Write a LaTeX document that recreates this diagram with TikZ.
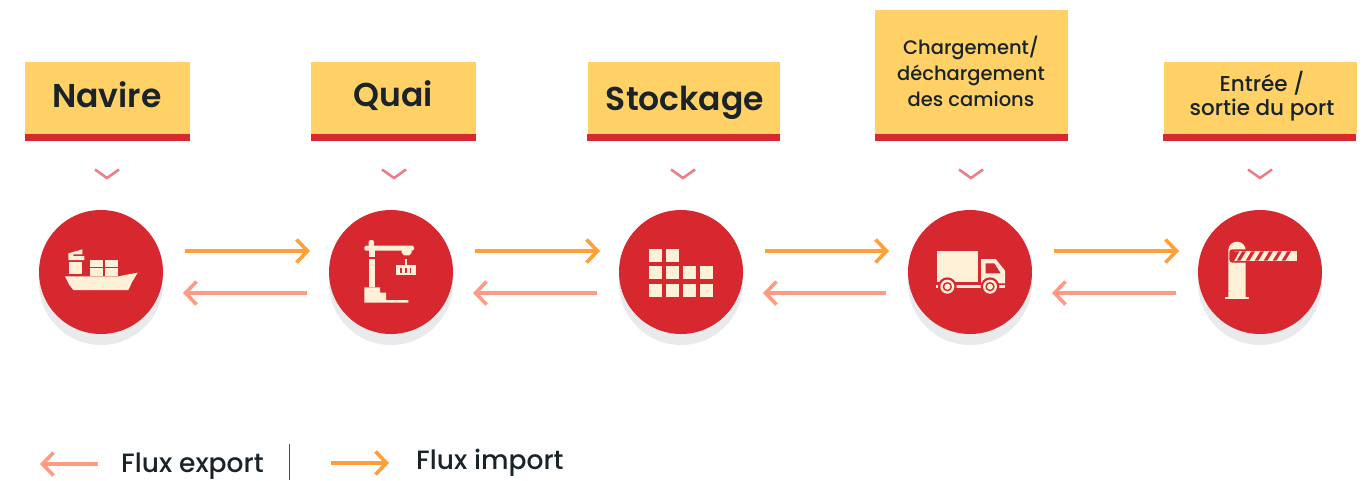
\documentclass[tikz,border=0pt]{standalone}
\usepackage{fontspec}
\usetikzlibrary{arrows.meta}
\newfontfamily\hdfont{Poppins SemiBold}
\newfontfamily\mdfont{Poppins Medium}
\definecolor{cred}{HTML}{D7282F}
\definecolor{cyel}{HTML}{FFD166}
\definecolor{corg}{HTML}{FF9F38}
\definecolor{cpnk}{HTML}{FF9B82}
\definecolor{ccrm}{HTML}{FFF1D8}
\definecolor{cshd}{HTML}{E9EAEC}
\definecolor{cchv}{HTML}{E8808A}
\definecolor{ctxt}{HTML}{1A2328}
\tikzset{
  disc/.style={circle,fill=cred,minimum size=124pt,inner sep=0pt,outer sep=0pt},
  yelbox/.style={rectangle,fill=cyel,inner sep=0pt,outer sep=0pt,anchor=north west},
  redbar/.style={rectangle,fill=cred,inner sep=0pt,outer sep=0pt,anchor=north west,minimum height=7pt},
  bigt/.style={font=\hdfont\fontsize{33}{36}\selectfont,text=ctxt,inner sep=0pt},
  midt/.style={font=\mdfont\fontsize{19.5}{26}\selectfont,text=ctxt,inner sep=0pt,align=center},
  midtb/.style={font=\mdfont\fontsize{21.5}{24}\selectfont,text=ctxt,inner sep=0pt,align=center},
  lgt/.style={font=\mdfont\fontsize{26.5}{28}\selectfont,text=ctxt,inner sep=0pt,anchor=west},
  imp/.style={draw=corg,line width=3.6pt,-{Straight Barb[length=11pt,width=23pt,line width=3.6pt]}},
  expf/.style={draw=cpnk,line width=3.6pt,-{Straight Barb[length=11pt,width=23pt,line width=3.6pt]}},
  chev/.style={draw=cchv,line width=2.6pt},
  ic/.style={fill=ccrm},
  icr/.style={fill=cred},
}
\begin{document}
\begin{tikzpicture}[x=1pt,y=-1pt]
\useasboundingbox (0,0) rectangle (1371,480);
% shadows
\foreach \cx in {101,391,681,970,1260}{
  \fill[cshd] (\cx,283) circle (62);
}
% discs
\node[disc] (c1) at (101,272) {};
\node[disc] (c2) at (391,272) {};
\node[disc] (c3) at (681,272) {};
\node[disc] (c4) at (970,272) {};
\node[disc] (c5) at (1260,272) {};
% header boxes
\node[yelbox,minimum width=165pt,minimum height=72pt] (b1) at (25,62) {};
\node[yelbox,minimum width=165pt,minimum height=72pt] (b2) at (311,62) {};
\node[yelbox,minimum width=192pt,minimum height=72pt] (b3) at (588,62) {};
\node[yelbox,minimum width=193pt,minimum height=124pt] (b4) at (875,10) {};
\node[yelbox,minimum width=193pt,minimum height=72pt] (b5) at (1164,62) {};
\node[redbar,minimum width=165pt] (r1) at (25,134) {};
\node[redbar,minimum width=165pt] (r2) at (311,134) {};
\node[redbar,minimum width=193pt] (r3) at (587,134) {};
\node[redbar,minimum width=193pt] (r4) at (875,134) {};
\node[redbar,minimum width=193pt] (r5) at (1163,134) {};
\node[bigt] (t1) at (107,95) {Navire};
\node[bigt] (t2) at (393.5,96) {Quai};
\node[bigt] (t3) at (685,103) {Stockage};
\node[midt] (t4) at (971,71.5) {Chargement/\\déchargement\\des camions};
\node[midtb] (t5) at (1262,96) {Entrée /\\sortie du port};
% chevrons
\foreach \cx in {107,394,683,971,1260}{
  \draw[chev] (\cx-12,169.5) -- (\cx,178) -- (\cx+12,169.5);
}
% connectors
\foreach \a/\b in {1/2,2/3,3/4,4/5}{
  \draw[imp] ([shift={(22,-21)}]c\a.east) -- ([shift={(-19,-21)}]c\b.west);
  \draw[expf] ([shift={(-22,21)}]c\b.west) -- ([shift={(20,21)}]c\a.east);
}
% ship icon
\begin{scope}[shift={(20,150)},scale=1/3]
  \fill[ic] (135,379) -- (297,379) -- (310,376) -- (353,368) -- (335,398) -- (330,410) -- (325,420) -- (160,420) -- (148,405) -- cycle;
  \fill[ic] (147,335) rectangle (185,372);
  \fill[ic] (145,310) -- (187,298) -- (187,313) -- (160,313) -- (160,318) -- (193,318) -- (193,330) -- (145,330) -- cycle;
  \fill[ic] (211,331) rectangle (250,350);
  \fill[ic] (254,331) rectangle (294,350);
  \fill[ic] (211,354) rectangle (250,378);
  \fill[ic] (254,354) rectangle (294,378);
\end{scope}
% crane icon
\begin{scope}[shift={(320,200)},scale=1/3]
  \fill[ic,rounded corners=1.5pt] (133,137) rectangle (282,152);
  \fill[ic,rounded corners=2pt] (146,120) rectangle (162,140);
  \fill[ic] (245,150) -- (275,150) -- (275,158) -- (268,166) -- (252,166) -- (245,158) -- cycle;
  \fill[ic] (148,150) rectangle (164,170);
  \fill[ic] (146,176) rectangle (166,262);
  \fill[ic] (133,308) -- (133,262) -- (166,262) -- (180,262) -- (180,278) -- (198,278) -- (198,300) -- (265,300) -- (265,308) -- cycle;
  \fill[ic] (255,178) rectangle (260,196);
  \fill[ic] (228,195) rectangle (287,225);
  \foreach \sx in {242,257,271}{\fill[icr] (\sx-2.5,203) rectangle (\sx+2.5,218);}
\end{scope}
% containers icon
\begin{scope}[shift={(320,200)},scale=1/3]
  \foreach \sx/\sy in {986/148,1038/148,986/199,1038/199,1089/199,1140/199,986/251,1038/251,1089/251,1140/251}{
    \fill[ic] (\sx,\sy) rectangle (\sx+39,\sy+39);
  }
\end{scope}
% truck icon
\begin{scope}[shift={(900,200)},scale=1/3]
  \fill[ic] (110,154) rectangle (233,245);
  \fill[ic] (243,177) -- (287,177) -- (315,212) -- (315,250) -- (243,250) -- cycle;
  \fill[icr] (257,190) -- (283,190) -- (302,220) -- (257,220) -- cycle;
  \fill[ic] (107,254) rectangle (315,264);
  \foreach \wx in {142,270}{
    \fill[icr] (\wx,260) circle (28);
    \fill[ic] (\wx,260) circle (21);
    \fill[icr] (\wx,260) circle (14);
    \fill[ic] (\wx,260) circle (9);
  }
\end{scope}
% barrier icon
\begin{scope}[shift={(900,200)},scale=1/3]
  \fill[ic] (985,296) -- (985,150) arc[start angle=180,end angle=0,x radius=26,y radius=-25] -- (1037,296) -- cycle;
  \fill[ic] (975,290) rectangle (1046,296);
  \fill[icr,rounded corners=3pt] (988,148) rectangle (1045,188);
  \fill[ic] (1003,154) rectangle (1190,182);
  \foreach \sx in {1010,1037,1064,1091,1118,1145}{
    \fill[icr] (\sx,182) -- (\sx+11,182) -- (\sx+28,154) -- (\sx+17,154) -- cycle;
  }
  \fill[icr] (1000,154) -- (1018,154) -- (1003,182) -- (1000,182) -- cycle;
\end{scope}
% legend
\coordinate (la1) at (98,464);
\coordinate (la2) at (40,464);
\coordinate (lb1) at (331,463);
\coordinate (lb2) at (389,463);
\draw[expf] (la1) -- (la2);
\draw[imp] (lb1) -- (lb2);
\node[lgt] (l1) at (121,466) {Flux export};
\node[lgt] (l2) at (416,463) {Flux import};
\coordinate (d1) at (289.5,444);
\coordinate (d2) at (289.5,480);
\draw[draw=ctxt!80,line width=1.5pt] (d1) -- (d2);
\end{tikzpicture}
\end{document}
